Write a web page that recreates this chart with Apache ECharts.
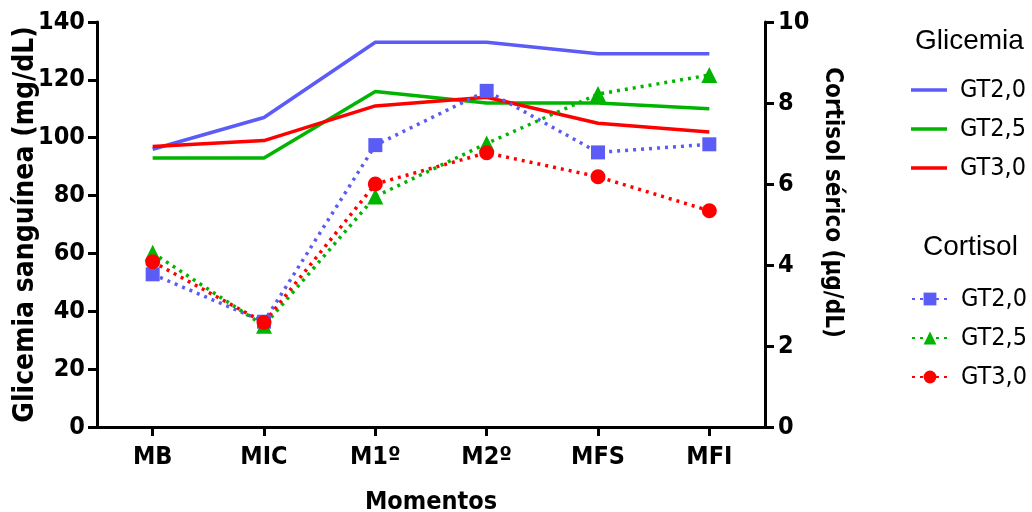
<!DOCTYPE html>
<html>
<head>
<meta charset="utf-8">
<script src="https://cdn.jsdelivr.net/npm/echarts@6/dist/echarts.min.js"></script>
<style>
  html, body { margin: 0; padding: 0; background: #fff; }
  #main { width: 1032px; height: 512px; }
</style>
</head>
<body>
<div id="main"></div>
<script>
// momentos
var momentos = ['MB', 'MIC', 'M1º', 'M2º', 'MFS', 'MFI'];
// glicemia (mg/dL)
var gli20 = [96, 107, 133, 133, 129, 129];
var gli25 = [93, 93, 116, 112, 112, 110];
var gli30 = [97, 99, 111, 114, 105, 102];
// cortisol (ug/dL)
var cor20 = [3.77, 2.6, 6.96, 8.3, 6.78, 6.98];
var cor25 = [4.3, 2.5, 5.69, 7.0, 8.22, 8.69];
var cor30 = [4.08, 2.58, 6.0, 6.77, 6.18, 5.34];

var azul = '#5b5bf5', verde = '#00b400', rojo = '#ff0000';
var fNarrow = '"Liberation Sans Narrow", "Arial Narrow", "DejaVu Sans Condensed", "Liberation Sans", sans-serif';
var fNormal = '"Liberation Sans", Arial, sans-serif';

var chart = echarts.init(document.getElementById('main'));

var lineaEje = { show: true, lineStyle: { color: '#000', width: 3 } };
var tickEje = { show: true, length: 9, lineStyle: { color: '#000', width: 3 } };

var option = {
  animation: false,
  grid: { left: 97, right: 267, top: 22, bottom: 85, containLabel: false, outerBoundsMode: 'none' },
  title: [
    { text: 'Glicemia', left: 910, top: 22, textStyle: { fontFamily: fNormal, fontWeight: 'normal', fontSize: 28, color: '#000' } },
    { text: 'Cortisol', left: 918, top: 228, textStyle: { fontFamily: fNormal, fontWeight: 'normal', fontSize: 28, color: '#000' } }
  ],
  legend: [
    {
      data: [
        { name: 'GT2,0 ', icon: 'rect' },
        { name: 'GT2,5 ', icon: 'rect' },
        { name: 'GT3,0 ', icon: 'rect' }
      ],
      orient: 'vertical', left: 906, top: 70, itemWidth: 36, itemHeight: 3.5, itemGap: 9,
      textStyle: { fontFamily: fNarrow, fontSize: 25, color: '#000', padding: [0, 0, 0, 8], lineHeight: 30 }
    },
    {
      data: ['GT2,0', 'GT2,5', 'GT3,0'],
      orient: 'vertical', left: 906, top: 279, itemWidth: 36, itemHeight: 16, itemGap: 9,
      textStyle: { fontFamily: fNarrow, fontSize: 25, color: '#000', padding: [0, 0, 0, 8], lineHeight: 30 }
    }
  ],
  xAxis: {
    type: 'category',
    data: momentos,
    boundaryGap: true,
    axisLine: lineaEje,
    axisTick: { show: true, alignWithLabel: true, length: 9, lineStyle: { color: '#000', width: 3 } },
    splitLine: { show: false },
    axisLabel: { fontFamily: fNarrow, fontWeight: 'bold', fontSize: 25, color: '#000', margin: 18 },
    name: 'Momentos', nameLocation: 'middle', nameGap: 63,
    nameTextStyle: { fontFamily: fNarrow, fontWeight: 'bold', fontSize: 25, color: '#000' }
  },
  yAxis: [
    {
      type: 'value', min: 0, max: 140, interval: 20, position: 'left',
      axisLine: lineaEje, axisTick: tickEje, splitLine: { show: false },
      axisLabel: { fontFamily: fNarrow, fontWeight: 'bold', fontSize: 25, color: '#000', margin: 12 },
      name: 'Glicemia sanguínea (mg/dL)', nameLocation: 'middle', nameGap: 57, nameRotate: 90,
      nameMoveOverlap: false,
      nameTextStyle: { fontFamily: fNarrow, fontWeight: 'bold', fontSize: 28, color: '#000' }
    },
    {
      type: 'value', min: 0, max: 10, interval: 2, position: 'right',
      axisLine: lineaEje, axisTick: tickEje, splitLine: { show: false },
      axisLabel: { fontFamily: fNarrow, fontWeight: 'bold', fontSize: 25, color: '#000', margin: 13 },
      name: 'Cortisol sérico (µg/dL)', nameLocation: 'middle', nameGap: 55, nameRotate: -90,
      nameMoveOverlap: false,
      nameTextStyle: { fontFamily: fNarrow, fontWeight: 'bold', fontSize: 24, color: '#000', padding: [0, 44, 0, 0] }
    }
  ],
  series: [
    { name: 'GT2,0 ', type: 'line', yAxisIndex: 0, data: gli20, symbol: 'none', lineStyle: { color: azul, width: 3.5 }, itemStyle: { color: azul } },
    { name: 'GT2,5 ', type: 'line', yAxisIndex: 0, data: gli25, symbol: 'none', lineStyle: { color: verde, width: 3.5 }, itemStyle: { color: verde } },
    { name: 'GT3,0 ', type: 'line', yAxisIndex: 0, data: gli30, symbol: 'none', lineStyle: { color: rojo, width: 3.5 }, itemStyle: { color: rojo } },
    { name: 'GT2,0', type: 'line', yAxisIndex: 1, data: cor20, symbol: 'rect', symbolSize: 14, lineStyle: { color: azul, width: 3.5, type: [3, 5] }, itemStyle: { color: azul } },
    { name: 'GT2,5', type: 'line', yAxisIndex: 1, data: cor25, symbol: 'triangle', symbolSize: 16, lineStyle: { color: verde, width: 3.5, type: [3, 5] }, itemStyle: { color: verde } },
    { name: 'GT3,0', type: 'line', yAxisIndex: 1, data: cor30, symbol: 'circle', symbolSize: 15, lineStyle: { color: rojo, width: 3.5, type: [3, 5] }, itemStyle: { color: rojo } }
  ]
};

chart.setOption(option);
</script>
</body>
</html>
